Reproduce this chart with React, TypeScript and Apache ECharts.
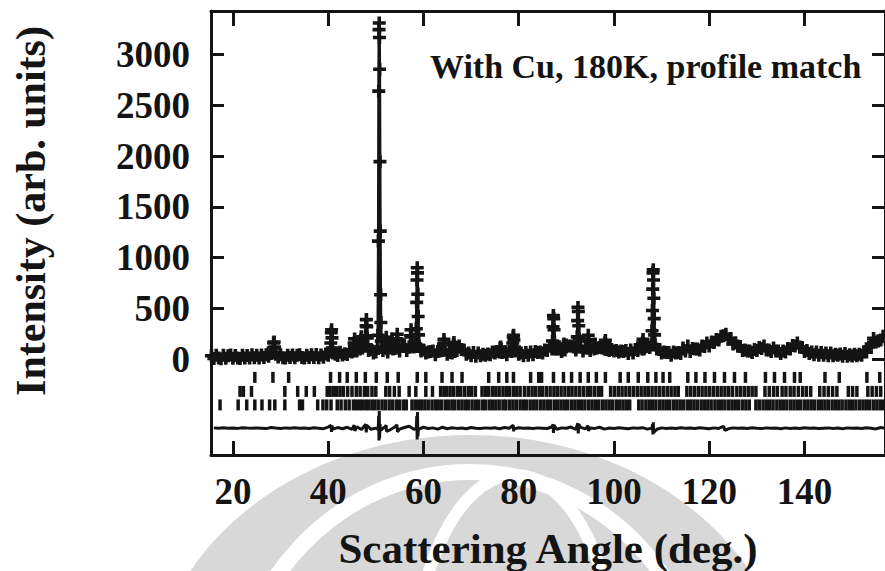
import React, { useEffect, useRef } from "react";
import * as echarts from "echarts";

// ---- axis ticks ----
const xTickValues = [20, 40, 60, 80, 100, 120, 140];
const yTickValues = [0, 500, 1000, 1500, 2000, 2500, 3000];

// ---- observed intensity: background samples every 0.5 deg starting at 15.5 deg ----
const obsStart = 15.5;
const obsStep = 0.5;
const observedBackground = [
  // 15.5 - 25.0
  34, 8, 40, 12, 5, 38, 10, 35, 42, 9, 36, 12, 7, 39, 13, 37, 11, 43, 15, 40,
  // 25.5 - 35.0
  12, 41, 16, 43, 30, 55, 80, 50, 22, 44, 15, 11, 39, 16, 42, 14, 38, 45, 17, 13,
  // 35.5 - 45.0
  40, 16, 43, 18, 47, 15, 42, 19, 51, 38, 55, 26, 50, 37, 68, 42, 54, 46, 78, 70,
  // 45.5 - 55.0
  150, 80, 115, 170, 130, 390, 85, 95, 60, 70, 1000, 600, 85, 110, 70, 140, 200, 105, 245, 80,
  // 55.5 - 65.0
  130, 140, 85, 120, 290, 120, 500, 240, 80, 90, 60, 70, 75, 80, 45, 75, 80, 85, 90, 50,
  // 65.5 - 75.0
  65, 60, 130, 85, 130, 95, 90, 50, 60, 35, 65, 30, 60, 35, 48, 38, 52, 45, 70, 60,
  // 75.5 - 85.0
  75, 105, 65, 70, 45, 80, 75, 200, 85, 50, 60, 35, 65, 38, 70, 45, 75, 65, 70, 60,
  // 85.5 - 95.0
  90, 85, 130, 100, 170, 100, 100, 75, 150, 140, 130, 130, 120, 90, 470, 120, 80, 110, 235, 85,
  // 95.5 - 105.0
  120, 140, 110, 115, 110, 185, 120, 85, 95, 80, 85, 70, 80, 75, 85, 55, 90, 60, 95, 85,
  // 105.5 - 115.0
  120, 160, 120, 125, 115, 280, 190, 100, 95, 60, 70, 65, 65, 40, 70, 60, 65, 55, 110, 80,
  // 115.5 - 125.0
  130, 75, 105, 100, 100, 90, 130, 125, 160, 130, 170, 165, 195, 190, 225, 230, 245, 200, 205, 150,
  // 125.5 - 135.0
  160, 130, 125, 85, 90, 80, 80, 65, 95, 85, 115, 105, 130, 90, 90, 75, 110, 80, 80, 55,
  // 135.5 - 145.0
  80, 70, 105, 100, 135, 130, 160, 120, 115, 75, 85, 55, 70, 45, 70, 40, 65, 38, 62, 35,
  // 145.5 - 155.0
  60, 35, 50, 38, 52, 28, 55, 30, 45, 32, 48, 35, 50, 40, 70, 70, 120, 150, 205, 170,
  // 155.5 - 157.0
  180, 190, 225, 200,
];

// ---- observed points across the Bragg peaks: [angle, intensity] ----
const observedPeaks: number[][][] = [
  [[28.35, 60], [28.45, 110], [28.55, 160], [28.65, 170], [28.75, 120], [28.85, 65]],
  [[40.45, 70], [40.55, 160], [40.65, 260], [40.72, 290], [40.8, 210], [40.9, 110], [41.0, 60]],
  [[45.3, 80], [45.45, 160], [45.55, 200], [45.65, 150], [45.8, 90]],
  [[46.7, 100], [46.85, 190], [46.95, 220], [47.05, 170], [47.2, 110]],
  [[47.75, 140], [47.85, 230], [47.95, 330], [48.02, 390], [48.1, 320], [48.2, 210], [48.3, 130]],
  [[50.35, 120], [50.45, 235], [50.55, 1163], [50.62, 2639], [50.68, 3245], [50.72, 3310], [50.76, 3167],
   [50.8, 2854], [50.87, 1945], [50.93, 1261], [51.0, 635], [51.06, 362], [51.15, 180]],
  [[52.0, 110], [52.1, 180], [52.2, 215], [52.3, 170], [52.4, 100]],
  [[53.2, 110], [53.3, 170], [53.4, 200], [53.5, 150], [53.6, 100]],
  [[54.3, 120], [54.4, 200], [54.5, 245], [54.6, 190], [54.7, 110]],
  [[57.2, 120], [57.3, 230], [57.4, 290], [57.5, 220], [57.6, 140]],
  [[58.4, 150], [58.5, 300], [58.58, 560], [58.65, 780], [58.7, 900], [58.75, 850], [58.82, 640],
   [58.9, 420], [58.98, 240], [59.08, 130]],
  [[64.1, 90], [64.2, 150], [64.3, 195], [64.4, 160], [64.5, 90]],
  [[66.2, 80], [66.3, 140], [66.4, 165], [66.5, 130], [66.6, 75]],
  [[76.0, 70], [76.1, 105], [76.2, 120], [76.3, 100], [76.4, 65]],
  [[78.65, 90], [78.75, 160], [78.85, 220], [78.92, 235], [79.0, 190], [79.1, 120], [79.2, 80]],
  [[87.0, 100], [87.1, 180], [87.2, 320], [87.28, 430], [87.35, 400], [87.42, 290], [87.5, 170], [87.6, 100]],
  [[89.3, 100], [89.4, 130], [89.5, 150], [89.6, 120], [89.7, 90]],
  [[92.2, 120], [92.3, 220], [92.38, 380], [92.45, 510], [92.52, 470], [92.6, 330], [92.68, 200], [92.78, 120]],
  [[94.4, 110], [94.5, 190], [94.6, 235], [94.7, 180], [94.8, 110]],
  [[95.85, 100], [95.95, 140], [96.05, 150], [96.15, 110]],
  [[98.0, 100], [98.1, 160], [98.2, 185], [98.3, 140], [98.4, 95]],
  [[105.9, 100], [106.0, 160], [106.1, 195], [106.2, 150], [106.3, 100]],
  [[107.9, 140], [108.0, 280], [108.08, 480], [108.14, 690], [108.2, 850], [108.25, 880], [108.3, 780],
   [108.37, 600], [108.45, 400], [108.53, 240], [108.62, 140]],
];

// ---- Bragg reflection positions (three phases), degrees ----
const braggRow1 = [
  24.6, 28.4, 31.7, 40.5, 42.4, 44.0, 45.9, 47.8, 50.1, 52.4, 54.7, 58.7, 60.5, 63.9, 66.0, 68.1,
  73.7, 75.8, 77.5, 78.9, 82.5, 84.2, 84.8, 87.3, 89.4, 91.1, 92.9, 94.6, 96.3, 98.2, 101.3, 103.0,
  105.1, 107.1, 108.8, 110.3, 111.7, 115.5, 117.2, 119.1, 121.1, 123.2, 125.3, 127.6, 131.8, 133.7,
  135.8, 137.9, 139.1, 144.3, 147.3, 153.1, 155.8,
];
const braggRow2 = [
  21.5, 22.2, 23.9, 30.9, 33.6, 35.4, 37.1, 39.8, 40.4, 41.1, 41.8, 42.5, 43.2, 44.1, 45.0, 45.9,
  46.7, 47.6, 48.3, 49.2, 50.0, 52.1, 52.9, 53.9, 54.9, 57.0, 58.4, 60.5, 61.9, 63.6, 64.3, 64.9,
  65.6, 66.3, 67.1, 67.8, 68.6, 69.4, 70.1, 70.9, 72.3, 73.0, 73.7, 74.5, 75.2, 75.9, 76.7, 77.4,
  78.1, 78.9, 79.6, 80.3, 81.2, 82.0, 82.8, 83.5, 84.3, 85.0, 85.8, 86.6, 87.4, 88.1, 88.9, 89.7,
  90.5, 91.2, 92.0, 92.8, 93.6, 94.4, 95.1, 95.9, 96.7, 97.4, 99.3, 100.1, 100.9, 101.7, 102.5,
  103.3, 104.1, 104.9, 105.7, 106.5, 107.2, 108.0, 108.8, 109.6, 110.4, 111.2, 112.0, 112.8, 113.5,
  115.3, 116.1, 116.9, 117.7, 118.5, 119.3, 120.1, 120.9, 121.7, 122.5, 123.3, 124.1, 124.9, 125.8,
  126.6, 127.4, 128.2, 129.0, 129.8, 131.7, 132.6, 133.5, 134.3, 135.3, 136.1, 137.0, 137.8, 138.7,
  139.6, 140.4, 141.3, 143.2, 144.1, 145.0, 145.9, 146.8, 149.2, 150.1, 151.0, 153.3, 154.2, 155.1, 156.0,
];
const braggRow3 = [
  17.3, 21.1, 22.9, 24.6, 26.1, 27.7, 28.8, 30.9, 34.0, 34.6, 37.8, 38.9, 39.7, 40.6, 41.9, 42.7,
  43.6, 44.4, 45.3, 45.9, 46.6, 47.2, 47.9, 48.5, 49.2, 49.8, 50.5, 51.3, 52.0, 52.8, 53.5, 54.3,
  55.0, 55.8, 56.4, 57.6, 58.3, 59.0, 59.6, 60.3, 61.0, 61.8, 62.5, 63.1, 63.8, 64.6, 65.3, 66.0,
  66.6, 67.4, 68.1, 68.8, 69.4, 70.2, 70.9, 71.6, 72.4, 73.0, 73.8, 74.5, 75.2, 75.9, 76.7, 77.3,
  78.1, 78.8, 79.5, 80.3, 81.0, 81.6, 82.4, 83.1, 83.8, 84.6, 85.3, 86.0, 86.7, 87.5, 88.2, 88.9,
  89.6, 90.3, 91.1, 91.8, 92.5, 93.2, 93.9, 94.7, 95.4, 96.1, 96.8, 97.6, 98.3, 99.0, 99.7, 100.5,
  101.2, 101.9, 102.6, 103.3, 105.2, 105.9, 106.7, 107.4, 108.1, 108.8, 109.6, 110.3, 111.0, 111.7,
  112.5, 113.2, 113.9, 114.6, 115.4, 116.1, 116.8, 117.5, 118.3, 119.0, 119.7, 120.4, 121.2, 121.9,
  122.6, 123.3, 124.1, 124.8, 125.5, 126.2, 127.0, 127.7, 128.4, 129.8, 130.5, 131.3, 132.0, 132.7,
  133.4, 134.2, 134.9, 135.6, 136.3, 137.1, 137.8, 138.5, 139.2, 140.0, 140.7, 141.4, 142.1, 142.9,
  143.6, 144.3, 145.0, 145.8, 146.5, 147.2, 147.9, 148.7, 149.4, 150.1, 150.8, 151.6, 152.3, 153.0,
  153.7, 154.5, 155.2, 155.9, 156.6,
];
const braggLevels = [-179, -317, -450];

// ---- difference curve (obs - calc, offset), every 1 deg from 16 deg ----
const diffStart = 16;
const diffStep = 1;
const differenceValues = [
  -676, -680, -675, -679, -677, -681, -674, -678, -680, -676,
  -679, -683, -672, -678, -681, -676, -679, -674, -680, -677,
  -682, -675, -679, -684, -668, -688, -673, -685, -670, -690,
  -665, -692, -660, -690, -678, -700, -662, -695, -668, -688,
  -672, -660, -690, -695, -670, -682, -676, -688, -670, -684,
  -674, -681, -677, -685, -672, -679, -683, -676, -680, -675,
  -684, -672, -679, -686, -674, -680, -677, -682, -676, -679,
  -682, -665, -690, -676, -680, -668, -692, -671, -686, -678,
  -681, -670, -688, -677, -683, -675, -679, -684, -676, -680,
  -674, -688, -678, -690, -676, -681, -678, -683, -675, -680,
  -677, -682, -675, -679, -684, -676, -681, -678, -685, -676,
  -680, -677, -683, -675, -679, -682, -676, -680, -678, -684,
  -676, -681, -678, -683, -675, -680, -677, -682, -679, -676,
  -681, -678, -684, -676, -680, -677, -683, -675, -679, -686,
  -672, -680,
];
const differenceSpikes: number[][][] = [
  [[40.6, -650], [40.7, -715], [40.8, -655]],
  [[45.45, -650], [45.6, -705]],
  [[47.9, -640], [48.0, -720], [48.1, -650]],
  [[50.5, -690], [50.6, -560], [50.66, -800], [50.72, -510], [50.8, -780], [50.88, -640], [50.95, -690]],
  [[52.15, -650], [52.25, -710]],
  [[54.45, -645], [54.55, -715]],
  [[58.5, -680], [58.6, -560], [58.68, -790], [58.75, -520], [58.83, -760], [58.92, -690]],
  [[78.85, -650], [78.95, -710]],
  [[87.2, -640], [87.3, -725], [87.4, -650]],
  [[92.4, -630], [92.5, -730], [92.6, -640]],
  [[94.55, -655], [94.65, -705]],
  [[108.1, -640], [108.18, -740], [108.26, -620], [108.34, -720]],
  [[123.0, -660], [123.3, -700]],
];

function mergeSamples(start: number, step: number, values: number[], groups: number[][][]) {
  const pts: number[][] = [];
  values.forEach((v, i) => {
    const a = +(start + i * step).toFixed(2);
    const inside = groups.some((g) => a >= g[0][0] && a <= g[g.length - 1][0]);
    if (!inside) pts.push([a, v]);
  });
  groups.forEach((g) => g.forEach((p) => pts.push(p)));
  pts.sort((p, q) => p[0] - q[0]);
  return pts;
}

const FONT = "'Liberation Serif', 'Times New Roman', serif";
const INK = "#141414";
const PLUS = "path://M0,4.7H13V8.3H0Z M4.7,0H8.3V13H4.7Z";

export default function App() {
  const ref = useRef<HTMLDivElement>(null);

  useEffect(() => {
    if (!ref.current) return;
    const chart = echarts.init(ref.current, undefined, { renderer: "svg" });

    const observed = mergeSamples(obsStart, obsStep, observedBackground, observedPeaks);
    const difference = mergeSamples(diffStart, diffStep, differenceValues, differenceSpikes);
    const rows = [braggRow1, braggRow2, braggRow3];

    const xMin = 15.4;
    const xMax = 156.9;
    const yMin = -943;
    const yMax = 3428;

    const axisLine = { show: true, onZero: false, lineStyle: { color: INK, width: 3 } };
    const tickStyle = { color: INK, width: 3 };
    const plain = (v: number) => String(v);

    const option: any = {
      animation: false,
      backgroundColor: "#ffffff",
      grid: { left: 211, right: -3, top: 11, bottom: 116, show: false },
      xAxis: [
        {
          type: "value",
          position: "bottom",
          min: xMin,
          max: xMax,
          axisLine,
          axisTick: { show: true, inside: true, length: 14, lineStyle: tickStyle, customValues: xTickValues },
          axisLabel: {
            show: true,
            customValues: xTickValues,
            formatter: plain,
            margin: 18,
            fontFamily: FONT,
            fontWeight: "bold",
            fontSize: 37,
            color: INK,
          },
          splitLine: { show: false },
        },
        {
          type: "value",
          position: "top",
          min: xMin,
          max: xMax,
          axisLine,
          axisTick: { show: true, inside: true, length: 15, lineStyle: tickStyle, customValues: xTickValues },
          axisLabel: { show: false },
          splitLine: { show: false },
        },
      ],
      yAxis: [
        {
          type: "value",
          position: "left",
          min: yMin,
          max: yMax,
          axisLine,
          axisTick: { show: true, inside: true, length: 13, lineStyle: tickStyle, customValues: yTickValues },
          axisLabel: {
            show: true,
            customValues: yTickValues,
            formatter: plain,
            margin: 21,
            fontFamily: FONT,
            fontWeight: "bold",
            fontSize: 37,
            color: INK,
          },
          splitLine: { show: false },
        },
        {
          type: "value",
          position: "right",
          min: yMin,
          max: yMax,
          axisLine,
          axisTick: { show: true, inside: true, length: 13, lineStyle: tickStyle, customValues: yTickValues },
          axisLabel: { show: false },
          splitLine: { show: false },
        },
      ],
      graphic: [
        { type: "ellipse", z: -10, silent: true, shape: { cx: 470, cy: 700, rx: 320, ry: 265 }, style: { fill: "#d8d8d8" } },
        { type: "ellipse", z: -9, silent: true, shape: { cx: 470, cy: 722, rx: 238, ry: 250 }, style: { fill: "none", stroke: "#ffffff", lineWidth: 16 } },
        { type: "ellipse", z: -9, silent: true, shape: { cx: 515, cy: 700, rx: 105, ry: 225 }, style: { fill: "none", stroke: "#ffffff", lineWidth: 12 } },
        {
          type: "text",
          x: 430,
          y: 66,
          style: { text: "With Cu, 180K, profile match", fontFamily: FONT, fontWeight: "bold", fontSize: 34, fill: INK, align: "left", verticalAlign: "middle" },
        },
        {
          type: "text",
          x: 548,
          y: 548,
          style: { text: "Scattering Angle (deg.)", fontFamily: FONT, fontWeight: "bold", fontSize: 43, fill: INK, align: "center", verticalAlign: "middle" },
        },
        {
          type: "text",
          x: 31,
          y: 211,
          rotation: Math.PI / 2,
          style: { text: "Intensity (arb. units)", fontFamily: FONT, fontWeight: "bold", fontSize: 42, fill: INK, align: "center", verticalAlign: "middle" },
        },
      ],
      series: [
        {
          name: "observed / calculated",
          type: "line",
          data: observed,
          clip: false,
          symbol: PLUS,
          symbolSize: 13,
          showSymbol: true,
          showAllSymbol: true,
          lineStyle: { color: INK, width: 3 },
          itemStyle: { color: INK },
          z: 4,
        },
        ...rows.map((row, i) => ({
          name: "Bragg " + (i + 1),
          type: "scatter",
          data: row.map((a) => [a, braggLevels[i]]),
          symbol: "rect",
          symbolSize: [3.5, 11],
          itemStyle: { color: INK, opacity: 1 },
          z: 3,
        })),
        {
          name: "difference",
          type: "line",
          data: difference,
          showSymbol: false,
          symbol: "none",
          lineStyle: { color: INK, width: 3 },
          z: 3,
        },
      ],
    };

    chart.setOption(option);
    return () => chart.dispose();
  }, []);

  return (
    <div
      ref={ref}
      style={{ position: "fixed", left: 0, top: 0, width: 885, height: 571, background: "#fff" }}
    />
  );
}
